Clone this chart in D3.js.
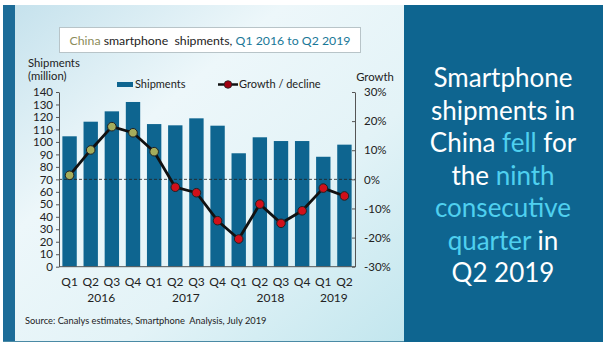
<!DOCTYPE html>
<html><head><meta charset="utf-8">
<script src="https://cdn.jsdelivr.net/npm/d3@7"></script>
<style>body{margin:0;background:#fff}svg{display:block;font-family:Lato,"Open Sans",sans-serif}</style>
</head><body><svg id="c" width="609" height="352"></svg>
<script>
const quarters = ["Q1","Q2","Q3","Q4","Q1","Q2","Q3","Q4","Q1","Q2","Q3","Q4","Q1","Q2"];
const years = ["2016","2017","2018","2019"];
const shipments = [104.5,116.2,124.5,132,114.3,113.3,118.9,113,90.9,103.7,100.7,100.7,88.1,97.8];
const growth = [1.4,10.1,18.1,16.0,9.5,-2.7,-4.6,-14.2,-20.5,-8.5,-15.1,-10.8,-3.0,-5.7];
const leftTicks = [0,10,20,30,40,50,60,70,80,90,100,110,120,130,140];
const rightTicks = [-30,-20,-10,0,10,20,30];

const svg = d3.select("#c");
const defs = svg.append("defs");
const g1 = defs.append("linearGradient").attr("id","bg").attr("x1","0").attr("y1","0").attr("x2","1").attr("y2","1");
g1.append("stop").attr("offset","0").attr("stop-color","#c4e1ec");
g1.append("stop").attr("offset","0.35").attr("stop-color","#edf7fa");
g1.append("stop").attr("offset","0.65").attr("stop-color","#e3f3f7");
g1.append("stop").attr("offset","1").attr("stop-color","#c2e6ee");

// panels
svg.append("rect").attr("x",3).attr("y",5).attr("width",401).attr("height",337).attr("fill","url(#bg)");
svg.append("rect").attr("x",3).attr("y",5).attr("width",12).attr("height",337).attr("fill","#1d6c98");
svg.append("line").attr("x1",3).attr("x2",404).attr("y1",341.5).attr("y2",341.5).attr("stroke","#4a8aa5").attr("stroke-width",1);
svg.append("rect").attr("x",404).attr("y",5).attr("width",199).attr("height",337).attr("fill","#0e6590");

// title
svg.append("rect").attr("x",59.5).attr("y",27.5).attr("width",301).attr("height",25).attr("fill","#fff").attr("stroke","#b8c4c8");
const tt = svg.append("text").attr("x",210).attr("y",45).attr("text-anchor","middle").attr("font-size",12.3);
tt.append("tspan").attr("fill","#8c8c5a").text("China");
tt.append("tspan").attr("fill","#222").attr("xml:space","preserve").text(" smartphone\u00a0 shipments, ");
tt.append("tspan").attr("fill","#1a7898").text("Q1 2016 to Q2 2019");

// scales
const x = d3.scaleBand().domain(d3.range(quarters.length)).range([59,355]).paddingInner(0.32).paddingOuter(0.16);
const yL = d3.scaleLinear().domain([0,140]).range([266.7,92]);
const yR = d3.scaleLinear().domain([-30,30]).range([266.7,92]);

// bars
svg.append("g").selectAll("rect").data(shipments).join("rect")
  .attr("x",(d,i)=>x(i)).attr("width",x.bandwidth())
  .attr("y",d=>yL(d)).attr("height",d=>yL(0)-yL(d)).attr("fill","#0e6590");

// zero dashed line
svg.append("line").attr("x1",59).attr("x2",355).attr("y1",yR(0)).attr("y2",yR(0))
  .attr("stroke","#222").attr("stroke-width",0.8).attr("stroke-dasharray","3,2");

// axes
const axL = svg.append("g").attr("transform","translate(59,0)")
  .call(d3.axisLeft(yL).tickValues(leftTicks).tickSize(3).tickSizeOuter(0));
const axR = svg.append("g").attr("transform","translate(355,0)")
  .call(d3.axisRight(yR).tickValues(rightTicks).tickSize(-3).tickSizeOuter(0).tickFormat(d=>d+"%"));
[axL,axR].forEach(a=>{
  a.select(".domain").attr("stroke","#555");
  a.selectAll(".tick line").attr("stroke","#555");
  a.selectAll("text").attr("font-size",11.5).attr("fill","#222").attr("font-family","Lato,'Open Sans',sans-serif");
});
axL.selectAll("text").attr("x",-6);
axR.selectAll("text").attr("x",9);
svg.append("line").attr("x1",59).attr("x2",355).attr("y1",266.7).attr("y2",266.7).attr("stroke","#555");

// x labels
svg.append("g").selectAll("text").data(quarters).join("text")
  .attr("x",(d,i)=>x(i)+x.bandwidth()/2).attr("y",286).attr("text-anchor","middle")
  .attr("font-size",12).attr("fill","#222").text(d=>d);
const yearIdx = [[1,2],[5,6],[9,10],[12,13]];
svg.append("g").selectAll("text").data(years).join("text")
  .attr("x",(d,i)=>(x(yearIdx[i][0])+x(yearIdx[i][1]))/2+x.bandwidth()/2).attr("y",302).attr("text-anchor","middle")
  .attr("font-size",12).attr("fill","#222").text(d=>d);

// line
const line = d3.line().x((d,i)=>x(i)+x.bandwidth()/2).y(d=>yR(d));
svg.append("path").datum(growth).attr("d",line).attr("fill","none").attr("stroke","#111").attr("stroke-width",2.8).attr("stroke-linejoin","round");
svg.append("g").selectAll("circle").data(growth).join("circle")
  .attr("cx",(d,i)=>x(i)+x.bandwidth()/2).attr("cy",d=>yR(d)).attr("r",4.3)
  .attr("fill",d=>d>=0?"#a5ad5c":"#d0101a").attr("stroke","#222").attr("stroke-width",1);

// axis titles
svg.append("text").attr("x",28).attr("y",67).attr("font-size",11.3).attr("fill","#222").text("Shipments");
svg.append("text").attr("x",28).attr("y",80).attr("font-size",11.3).attr("fill","#222").text("(million)");
svg.append("text").attr("x",375).attr("y",81).attr("text-anchor","middle").attr("font-size",11.3).attr("fill","#222").text("Growth");

// legend
svg.append("rect").attr("x",117).attr("y",82).attr("width",16).attr("height",5).attr("fill","#0e6590");
svg.append("text").attr("x",135).attr("y",88).attr("font-size",11).attr("fill","#222").text("Shipments");
svg.append("line").attr("x1",218).attr("x2",238).attr("y1",84.5).attr("y2",84.5).attr("stroke","#111").attr("stroke-width",2.5);
svg.append("circle").attr("cx",228).attr("cy",84.5).attr("r",3.8).attr("fill","#a00010").attr("stroke","#222").attr("stroke-width",0.8);
svg.append("text").attr("x",239).attr("y",88).attr("font-size",11).attr("fill","#222").text("Growth / decline");

// source
svg.append("text").attr("x",25).attr("y",324).attr("font-size",9.3).attr("fill","#222").text("Source: Canalys estimates, Smartphone\u00a0 Analysis, July 2019");

// right panel text
const lines = [
  [["Smartphone","#fff"]],
  [["shipments in","#fff"]],
  [["China ","#fff"],["fell","#4fd0ef"],[" for","#fff"]],
  [["the ","#fff"],["ninth","#4fd0ef"]],
  [["consecutive","#4fd0ef"]],
  [["quarter","#4fd0ef"],[" in","#fff"]],
  [["Q2 2019","#fff"]]
];
lines.forEach((ln,i)=>{
  const t = svg.append("text").attr("x",503).attr("y",87+i*32.5).attr("text-anchor","middle").attr("font-size",26);
  ln.forEach(s=>t.append("tspan").attr("fill",s[1]).text(s[0]));
});
</script></body></html>
